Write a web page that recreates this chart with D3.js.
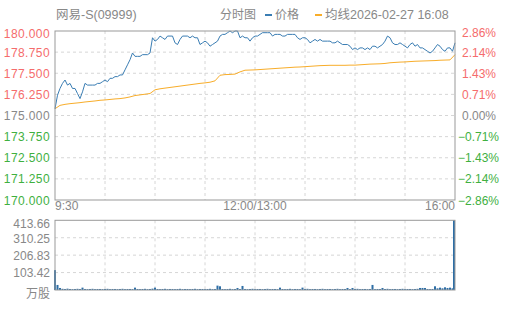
<!DOCTYPE html>
<html>
<head>
<meta charset="utf-8">
<script src="https://cdn.jsdelivr.net/npm/d3@7"></script>
<style>
  body { margin: 0; background: #fff; }
  svg text { font-family: "Liberation Sans", Arial, "Noto Sans CJK SC", sans-serif; }
</style>
</head>
<body>
<main></main>
<script>
// data
const title = "网易-S(09999)";
const prevClose = 175;
const priceTicks = [180, 178.75, 177.5, 176.25, 175, 173.75, 172.5, 171.25, 170];
const timeLabels = ["9:30", "12:00/13:00", "16:00"];
const volMax = 413.66;

// last price, one value every ~2.5px of the time axis
const prices = [
  175.4, 176.2, 176.6, 176.9, 177.1, 176.8, 176.9, 176.6, 176.6, 176.3,
  176.0, 176.4, 176.9, 176.8, 176.8, 176.8, 176.8, 176.9, 176.9, 177.0,
  177.1, 177.0, 177.2, 177.2, 177.3, 177.3, 177.4, 177.4, 177.7, 178.0,
  178.3, 178.7, 178.5, 178.5, 178.5, 178.6, 178.6, 178.6, 178.7, 179.6,
  179.4, 179.5, 179.7, 179.6, 179.5, 179.7, 179.7, 179.7, 179.3, 179.2,
  179.5, 179.7, 179.7, 179.7, 179.6, 179.7, 179.6, 179.6, 179.2, 179.3,
  179.4, 179.3, 179.1, 179.2, 179.3, 179.4, 179.7, 179.8, 179.8, 179.9,
  180.0, 179.9, 180.0, 180.0, 179.6, 179.7, 179.6, 179.6, 179.4, 179.6,
  179.7, 179.7, 179.8, 179.9, 179.9, 179.9, 179.9, 179.7, 179.8, 179.8,
  179.8, 179.7, 179.7, 179.8, 179.8, 179.8, 179.8, 179.6, 179.5, 179.6,
  179.6, 179.5, 179.3, 179.4, 179.5, 179.4, 179.5, 179.4, 179.4, 179.4,
  179.4, 179.3, 179.3, 179.4, 179.3, 179.2, 179.2, 179.2, 179.1, 178.9,
  179.0, 178.9, 179.0, 179.0, 178.9, 179.0, 178.9, 179.1, 179.1, 179.0,
  179.1, 179.2, 179.4, 179.7, 179.6, 179.3, 179.2, 179.2, 179.3, 179.2,
  179.1, 179.0, 179.2, 179.3, 179.1, 179.2, 179.0, 179.0, 178.9, 178.8,
  178.7, 178.8, 179.0, 179.2, 179.1, 178.9, 178.8, 179.0, 179.0, 178.8,
  179.3
];

// average price, one value every ~5px
const avgPrices = [
  175.40, 175.60, 175.66, 175.70, 175.73, 175.76, 175.80, 175.83, 175.86, 175.90,
  175.92, 175.95, 175.98, 176.00, 176.04, 176.10, 176.18, 176.22, 176.26, 176.30,
  176.52, 176.58, 176.62, 176.66, 176.70, 176.74, 176.78, 176.82, 176.86, 176.90,
  176.93, 176.97, 177.05, 177.38, 177.42, 177.43, 177.45, 177.58, 177.68, 177.69,
  177.70, 177.72, 177.74, 177.76, 177.78, 177.80, 177.82, 177.84, 177.86, 177.87,
  177.89, 177.91, 177.93, 177.95, 177.96, 177.97, 177.97, 177.97, 177.97, 177.98,
  177.98, 178.00, 178.02, 178.04, 178.05, 178.06, 178.08, 178.12, 178.14, 178.16,
  178.17, 178.19, 178.21, 178.22, 178.23, 178.24, 178.25, 178.27, 178.28, 178.29,
  178.60
];

// volume in 万股, same slots as prices
const volumes = [
  118, 30, 12, 7, 6, 8, 6, 5, 6, 7, 6, 14, 6, 5, 6, 7, 5, 6, 6, 5,
  6, 7, 5, 6, 6, 5, 6, 7, 5, 6, 6, 5, 14, 6, 5, 6, 7, 5, 6, 8,
  14, 6, 5, 6, 7, 5, 6, 6, 5, 6, 7, 5, 6, 6, 5, 6, 7, 5, 6, 6,
  5, 6, 7, 5, 6, 26, 22, 6, 5, 6, 7, 5, 6, 12, 6, 24, 6, 5, 6, 7,
  5, 6, 6, 5, 6, 7, 5, 6, 6, 5, 14, 6, 5, 6, 7, 5, 6, 6, 5, 14,
  6, 7, 5, 6, 6, 5, 6, 7, 5, 6, 6, 5, 6, 7, 5, 6, 6, 12, 5, 12,
  6, 7, 5, 6, 6, 5, 6, 30, 5, 6, 6, 12, 6, 7, 5, 6, 6, 5, 6, 7,
  5, 6, 6, 5, 6, 7, 12, 12, 12, 6, 5, 6, 22, 10, 14, 10, 16, 12, 14, 10,
  413.66
];

const W = 505, H = 310;
const plot = {left: 55, right: 455, top: 31, bottom: 200, vTop: 220.3, vBottom: 290};
const gray = "#888", red = "#f56c6c", green = "#3fb03f";

const svg = d3.select("main").append("svg")
  .attr("width", W).attr("height", H);

const x = d3.scaleLinear().domain([0, prices.length - 1]).range([plot.left, plot.right]);
const xAvg = d3.scaleLinear().domain([0, avgPrices.length - 1]).range([plot.left, plot.right]);
const y = d3.scaleLinear().domain([170, 180]).range([plot.bottom, plot.top]);
const yVol = d3.scaleLinear().domain([0, volMax]).range([plot.vBottom, plot.vTop]);

const gridX = d3.range(1, 8).map(i => x(i * (prices.length - 1) / 8));

// grid: main panel
svg.append("g").selectAll("line")
  .data(priceTicks.slice(1, -1)).enter().append("line")
  .attr("x1", plot.left).attr("x2", plot.right)
  .attr("y1", d => y(d)).attr("y2", d => y(d))
  .attr("stroke", "#d6d6d6").attr("stroke-dasharray", "3,3");
svg.append("g").selectAll("line")
  .data(gridX).enter().append("line")
  .attr("x1", d => d).attr("x2", d => d)
  .attr("y1", plot.top).attr("y2", plot.bottom)
  .attr("stroke", "#d6d6d6").attr("stroke-dasharray", "3,3");

// grid: volume panel
const volTicks = [volMax, volMax * 3 / 4, volMax / 2, volMax / 4];
svg.append("g").selectAll("line")
  .data(volTicks.slice(1)).enter().append("line")
  .attr("x1", plot.left).attr("x2", plot.right)
  .attr("y1", d => yVol(d)).attr("y2", d => yVol(d))
  .attr("stroke", "#d6d6d6").attr("stroke-dasharray", "3,3");
svg.append("g").selectAll("line")
  .data(gridX).enter().append("line")
  .attr("x1", d => d).attr("x2", d => d)
  .attr("y1", plot.vTop).attr("y2", plot.vBottom)
  .attr("stroke", "#d6d6d6").attr("stroke-dasharray", "3,3");

// lines
svg.append("path")
  .datum(avgPrices)
  .attr("fill", "none").attr("stroke", "#f8ad2a").attr("stroke-width", 1)
  .attr("d", d3.line().x((d, i) => xAvg(i)).y(d => y(d)));

svg.append("path")
  .datum(prices)
  .attr("fill", "none").attr("stroke", "#3a7db3").attr("stroke-width", 1)
  .attr("d", d3.line().x((d, i) => x(i)).y(d => y(d)));

// volume bars
svg.append("g").selectAll("rect")
  .data(volumes).enter().append("rect")
  .attr("x", (d, i) => Math.min(x(i) - 1, plot.right - 2))
  .attr("width", 2)
  .attr("y", d => yVol(d))
  .attr("height", d => plot.vBottom - yVol(d))
  .attr("fill", "#2d6ea6");

// frames
svg.append("rect")
  .attr("x", plot.left).attr("y", plot.top)
  .attr("width", plot.right - plot.left).attr("height", plot.bottom - plot.top)
  .attr("fill", "none").attr("stroke", "#999");
svg.append("rect")
  .attr("x", plot.left).attr("y", plot.vTop)
  .attr("width", plot.right - plot.left).attr("height", plot.vBottom - plot.vTop)
  .attr("fill", "none").attr("stroke", "#999");

// left price labels
const colorOf = d => d > prevClose ? red : (d < prevClose ? green : gray);
svg.append("g").selectAll("text")
  .data(priceTicks).enter().append("text")
  .attr("x", 50)
  .attr("y", d => Math.max(y(d), plot.top + 2.5) + 4.5)
  .attr("text-anchor", "end")
  .attr("font-size", 12)
  .attr("letter-spacing", 0.4)
  .attr("fill", colorOf)
  .text(d => d.toFixed(3));

// right percent labels
svg.append("g").selectAll("text")
  .data(priceTicks).enter().append("text")
  .attr("x", d => d < prevClose ? 458 : 462)
  .attr("y", d => Math.max(y(d), plot.top + 1.5) + 4.5)
  .attr("font-size", 12)
  .attr("fill", colorOf)
  .text(d => {
    const p = (d - prevClose) / prevClose * 100;
    return (p < 0 ? "\u2212" + Math.abs(p).toFixed(2) : p.toFixed(2)) + "%";
  });

// volume labels
svg.append("g").selectAll("text")
  .data(volTicks).enter().append("text")
  .attr("x", 50)
  .attr("y", d => Math.max(yVol(d), plot.vTop + 2.8) + 4.8)
  .attr("text-anchor", "end")
  .attr("font-size", 12)
  .attr("fill", gray)
  .text(d => d.toFixed(2));
svg.append("text")
  .attr("x", 50).attr("y", plot.vBottom + 7.5)
  .attr("text-anchor", "end").attr("font-size", 12).attr("fill", gray)
  .text("万股");

// time labels
svg.append("g").selectAll("text")
  .data(timeLabels).enter().append("text")
  .attr("x", (d, i) => x(i * (prices.length - 1) / 2))
  .attr("y", 210)
  .attr("text-anchor", (d, i) => ["start", "middle", "end"][i])
  .attr("font-size", 12)
  .attr("fill", gray)
  .text(d => d);

// title and legend
svg.append("text")
  .attr("x", 56).attr("y", 19)
  .attr("font-size", 12.5).attr("fill", gray)
  .text(title);
svg.append("text")
  .attr("x", 220).attr("y", 19)
  .attr("font-size", 12).attr("fill", gray)
  .text("分时图");
svg.append("rect")
  .attr("x", 265).attr("y", 14).attr("width", 7).attr("height", 2)
  .attr("fill", "#3a7db3");
svg.append("text")
  .attr("x", 275).attr("y", 19)
  .attr("font-size", 12).attr("fill", gray)
  .text("价格");
svg.append("rect")
  .attr("x", 315).attr("y", 14).attr("width", 7).attr("height", 2)
  .attr("fill", "#f8ad2a");
svg.append("text")
  .attr("x", 325).attr("y", 19)
  .attr("font-size", 12.5).attr("fill", gray)
  .text("均线2026-02-27 16:08");
</script>
</body>
</html>
